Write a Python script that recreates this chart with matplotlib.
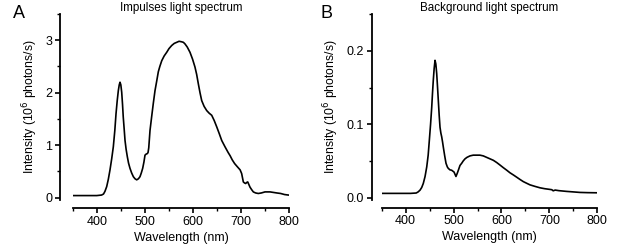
import matplotlib
matplotlib.use("Agg")
import matplotlib.pyplot as plt
from matplotlib.ticker import MultipleLocator, FormatStrFormatter

plt.rcParams['font.family'] = ['Liberation Sans', 'DejaVu Sans']

# Panel A: impulses light spectrum
wl_a = [350, 380, 400, 410, 414, 417, 420.6, 424, 427.5, 431, 434.4, 437.5, 440, 442.5, 444.8, 446.7, 448.3,
        450, 451.8, 453.5, 455, 457, 458.7, 461, 463.5, 466, 469, 472.5, 476, 479.5, 483, 486.5, 489.8,
        492.5, 495.4, 498, 500.2, 502.5, 505, 506.5, 508, 510.6, 514, 517.5, 521, 524.5, 527.9, 531,
        535, 540, 545.3, 550, 555.7, 561, 566, 571, 576.5, 580, 583.3, 588, 593.7, 599, 604, 607.5,
        611, 614.5, 618, 623, 628.4, 633.5, 638.8, 644, 649.2, 654.5, 659.6, 666.4, 673, 677, 681.5,
        686.4, 692, 697.8, 701, 704.5, 707, 709.4, 711.5, 713.6, 716, 718.4, 722, 725.3, 730, 735.6,
        742, 749.5, 755, 760, 767, 773.9, 782, 790, 798, 800]
int_a = [0.04, 0.04, 0.04, 0.05, 0.07, 0.12, 0.21, 0.35, 0.53, 0.74, 0.97, 1.28, 1.6, 1.85, 2.04, 2.15, 2.2,
         2.15, 2.01, 1.78, 1.54, 1.3, 1.09, 0.92, 0.78, 0.66, 0.56, 0.47, 0.4, 0.36, 0.34, 0.36, 0.4,
         0.47, 0.56, 0.68, 0.81, 0.83, 0.84, 0.86, 0.95, 1.28, 1.54, 1.8, 2.04, 2.22, 2.4, 2.5,
         2.61, 2.7, 2.77, 2.84, 2.9, 2.94, 2.96, 2.98, 2.97, 2.96, 2.93, 2.87, 2.77, 2.64, 2.49, 2.35,
         2.17, 2.0, 1.85, 1.74, 1.66, 1.61, 1.57, 1.47, 1.35, 1.22, 1.09, 0.97, 0.86, 0.8, 0.72,
         0.65, 0.59, 0.53, 0.46, 0.3, 0.28, 0.27, 0.29, 0.3, 0.25, 0.2, 0.15, 0.11, 0.09, 0.08,
         0.09, 0.11, 0.11, 0.11, 0.1, 0.09, 0.08, 0.06, 0.05, 0.05]

# Panel B: background light spectrum
wl_b = [350, 388, 410, 422, 426, 430, 433.5, 436.8, 440.5, 444, 447, 449.4, 452, 454.4, 456, 457.7, 459.5,
        461.3, 463, 464.8, 466.5, 468.2, 470, 471.7, 473.5, 475.2, 477, 478.6, 481.5, 484.2, 487, 489,
        492.5, 496, 499, 501, 503, 505, 507.5, 510, 513.4, 517, 520, 523.9, 528, 534.3, 541, 548.3,
        555, 562, 569, 576, 583, 590, 597, 603.8, 611, 617.8, 625, 631.8, 638.5, 645.6, 652.5, 659.5,
        670, 680.4, 690, 701, 705, 708, 712, 720, 736, 750, 763.9, 780, 800]
int_b = [0.006, 0.006, 0.006, 0.0065, 0.008, 0.0104, 0.014, 0.0195, 0.029, 0.042, 0.058, 0.078, 0.1, 0.123,
         0.142, 0.16, 0.176, 0.187, 0.182, 0.169, 0.151, 0.132, 0.112, 0.096, 0.088, 0.083, 0.076, 0.069,
         0.057, 0.047, 0.042, 0.04, 0.038, 0.0375, 0.036, 0.035, 0.032, 0.029, 0.033, 0.0375, 0.044,
         0.047, 0.05, 0.053, 0.055, 0.057, 0.058, 0.058, 0.058, 0.057, 0.055, 0.053, 0.051, 0.048,
         0.0445, 0.041, 0.0375, 0.034, 0.031, 0.028, 0.025, 0.022, 0.0198, 0.0176, 0.0155, 0.0136,
         0.0124, 0.0114, 0.011, 0.0095, 0.0105, 0.0097, 0.0087, 0.008, 0.0073, 0.007, 0.0068]

xticks = [400, 500, 600, 700, 800]

fig = plt.figure(figsize=(6.17, 2.47), dpi=100)
W, H = 617, 247


def make_ax(left_px, right_px, top_px, bottom_px):
    return fig.add_axes([left_px / W, 1 - bottom_px / H, (right_px - left_px) / W, (bottom_px - top_px) / H])


axA = make_ax(72.7, 289.3, 14, 200.3)
axB = make_ax(381.7, 597.3, 14, 200.0)


def style(ax, ymax, ymin, ymajor, yminor, yfmt, left_out):
    ax.set_xlim(350, 800)
    ax.set_ylim(ymin, ymax)
    for s in ['top', 'right']:
        ax.spines[s].set_visible(False)
    ax.spines['left'].set_position(('outward', left_out))
    ax.spines['bottom'].set_position(('outward', 5.5))
    for s in ['left', 'bottom']:
        ax.spines[s].set_linewidth(1.3)
    ax.set_xticks(xticks)
    ax.xaxis.set_minor_locator(MultipleLocator(50))
    ax.yaxis.set_major_locator(MultipleLocator(ymajor))
    ax.yaxis.set_minor_locator(MultipleLocator(yminor))
    ax.yaxis.set_major_formatter(yfmt)
    ax.tick_params(which='major', direction='out', length=3.5, width=1.2, labelsize=9, pad=2)
    ax.tick_params(which='minor', direction='out', length=2, width=1.0)
    ax.set_xlabel('Wavelength (nm)', fontsize=9, labelpad=3)
    ax.set_ylabel('Intensity (10$^6$ photons/s)', fontsize=8.8, labelpad=4)


axA.plot(wl_a, int_a, color='black', lw=1.2)
style(axA, 3.5, -0.05, 1, 0.5, FormatStrFormatter('%d'), 9)
axA.set_title('Impulses light spectrum', fontsize=8.4, pad=1.6)

axB.plot(wl_b, int_b, color='black', lw=1.2)
style(axB, 0.25, -0.003, 0.1, 0.05, FormatStrFormatter('%.1f'), 7.2)
axB.set_title('Background light spectrum', fontsize=8.4, pad=1.6)

fig.text(12.5 / W, 1 - 18.3 / H, 'A', fontsize=13)
fig.text(320 / W, 1 - 18.3 / H, 'B', fontsize=13)

fig.savefig('out.png', dpi=100)
